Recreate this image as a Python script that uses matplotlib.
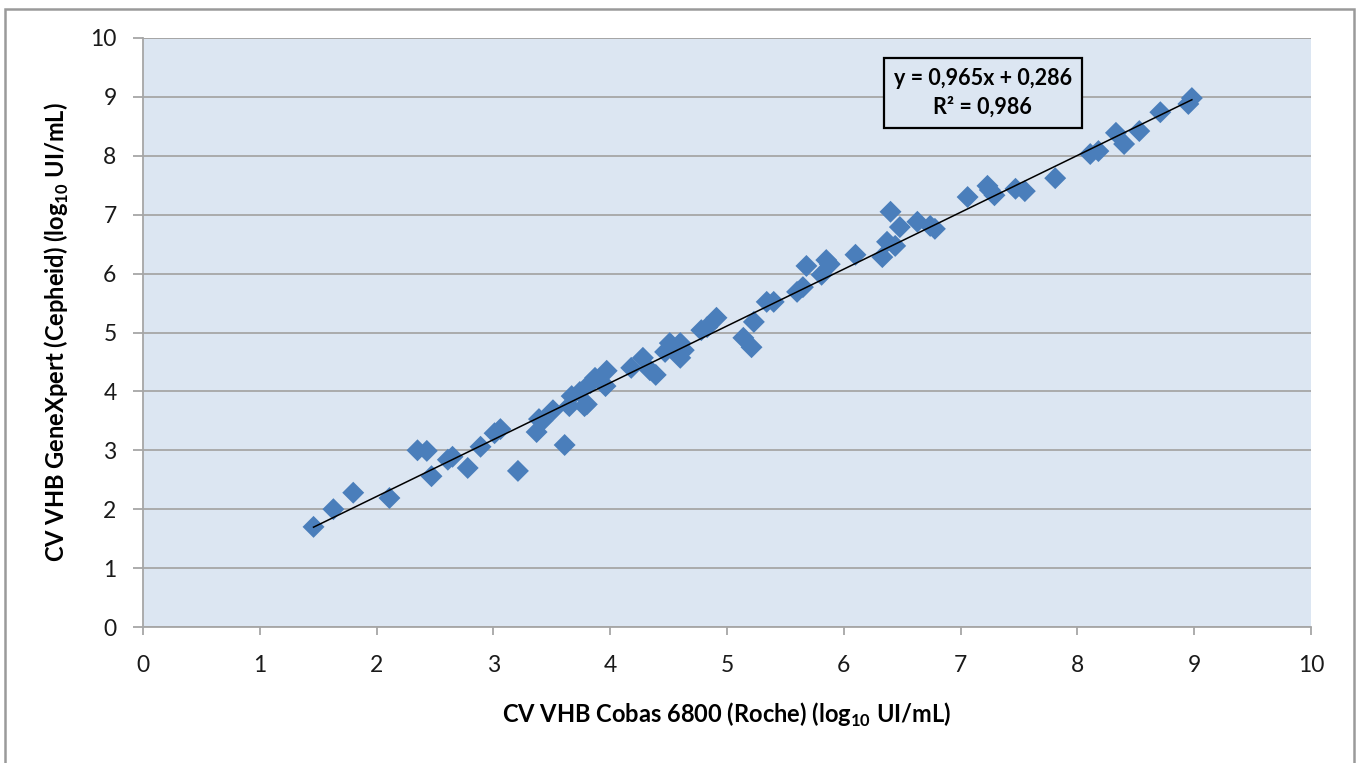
import matplotlib
matplotlib.use("Agg")
import matplotlib.pyplot as plt
import numpy as np
from matplotlib.patches import Rectangle

# Data (log10 UI/mL)
roche = [1.46, 1.63, 1.80, 2.11, 2.35, 2.43, 2.47, 2.61, 2.65, 2.78, 2.89, 3.01, 3.06,
         3.21, 3.37, 3.39, 3.42, 3.51, 3.61, 3.65, 3.67, 3.74, 3.78, 3.80, 3.83, 3.87,
         3.96, 3.97, 4.18, 4.28, 4.34, 4.39, 4.47, 4.51, 4.60, 4.60, 4.63, 4.78, 4.83,
         4.91, 5.14, 5.21, 5.23, 5.34, 5.40, 5.60, 5.65, 5.68, 5.81, 5.85, 5.88, 6.10,
         6.33, 6.37, 6.40, 6.44, 6.48, 6.63, 6.74, 6.78, 7.06, 7.23, 7.25, 7.29, 7.47,
         7.55, 7.81, 8.11, 8.18, 8.33, 8.40, 8.53, 8.71, 8.95, 8.98]
cepheid = [1.70, 2.00, 2.28, 2.19, 3.00, 2.99, 2.56, 2.84, 2.89, 2.70, 3.06, 3.29, 3.36,
           2.65, 3.31, 3.53, 3.50, 3.68, 3.09, 3.75, 3.92, 3.99, 3.75, 3.78, 4.14, 4.23,
           4.09, 4.35, 4.40, 4.57, 4.36, 4.28, 4.67, 4.82, 4.57, 4.82, 4.70, 5.04, 5.09,
           5.25, 4.91, 4.75, 5.18, 5.52, 5.52, 5.69, 5.77, 6.13, 5.98, 6.23, 6.16, 6.32,
           6.28, 6.54, 7.05, 6.47, 6.79, 6.88, 6.81, 6.76, 7.30, 7.49, 7.42, 7.33, 7.44,
           7.40, 7.62, 8.03, 8.08, 8.39, 8.20, 8.42, 8.74, 8.88, 8.98]
slope, intercept = 0.965, 0.286
equation_text = "y = 0,965x + 0,286\nR² = 0,986"
x_ticks = list(range(0, 11))
y_ticks = list(range(0, 11))

plt.rcParams['font.family'] = ['Lato', 'DejaVu Sans']
plt.rcParams['mathtext.fontset'] = 'custom'
plt.rcParams['mathtext.rm'] = 'Lato'
plt.rcParams['mathtext.bf'] = 'Lato:bold'

W, H = 1361, 763
fig = plt.figure(figsize=(W / 100, H / 100), dpi=100)
fig.patch.set_facecolor('white')

# outer border
fig.add_artist(Rectangle((5 / W, -0.01), (1354 - 5) / W, (H - 9) / H + 0.01,
                         transform=fig.transFigure, fill=False,
                         edgecolor='#9a9a9a', linewidth=1.8))

ax = fig.add_axes([143 / W, 1 - 627 / H, (1311 - 143) / W, (627 - 38) / H])
ax.set_facecolor('#DCE6F2')
ax.set_xlim(0, 10)
ax.set_ylim(0, 10)
ax.set_xticks(x_ticks)
ax.set_yticks(y_ticks)

grid_col = '#a6a6a6'
ax.yaxis.grid(True, color=grid_col, linewidth=1.3)
ax.xaxis.grid(False)
ax.set_axisbelow(True)
for s in ['top', 'right']:
    ax.spines[s].set_visible(False)
for s in ['left', 'bottom']:
    ax.spines[s].set_color(grid_col)
    ax.spines[s].set_linewidth(1.3)

ax.tick_params(axis='x', direction='out', length=6, width=1.3, color=grid_col,
               labelsize=16.5, pad=14, labelcolor='#1a1a1a')
ax.tick_params(axis='y', direction='out', length=7, width=1.3, color=grid_col,
               labelsize=16.5, pad=12, labelcolor='#1a1a1a')
ax.axhline(10, color=grid_col, linewidth=1.3, zorder=0.5)

ax.scatter(roche, cepheid, marker='D', s=125, color='#4A7EBB', edgecolors='none',
           zorder=3)

xr = np.array([min(roche), max(roche)])
ax.plot(xr, slope * xr + intercept, color='black', linewidth=1.1, zorder=4)

ax.text(7.19, 9.07, equation_text, ha='center', va='center', fontsize=15.5,
        fontweight='bold', linespacing=1.45, zorder=5,
        bbox=dict(boxstyle='square,pad=0.45', facecolor='#DCE6F2',
                  edgecolor='black', linewidth=1.6))

ax.set_xlabel("CV VHB Cobas 6800 (Roche) (log$_{\\mathbf{10}}$ UI/mL)",
              fontsize=17, fontweight='bold', labelpad=18)
ax.set_ylabel("CV VHB GeneXpert (Cepheid) (log$_{\\mathbf{10}}$ UI/mL)",
              fontsize=17, fontweight='bold', labelpad=14)

fig.savefig('out.png', dpi=100)
